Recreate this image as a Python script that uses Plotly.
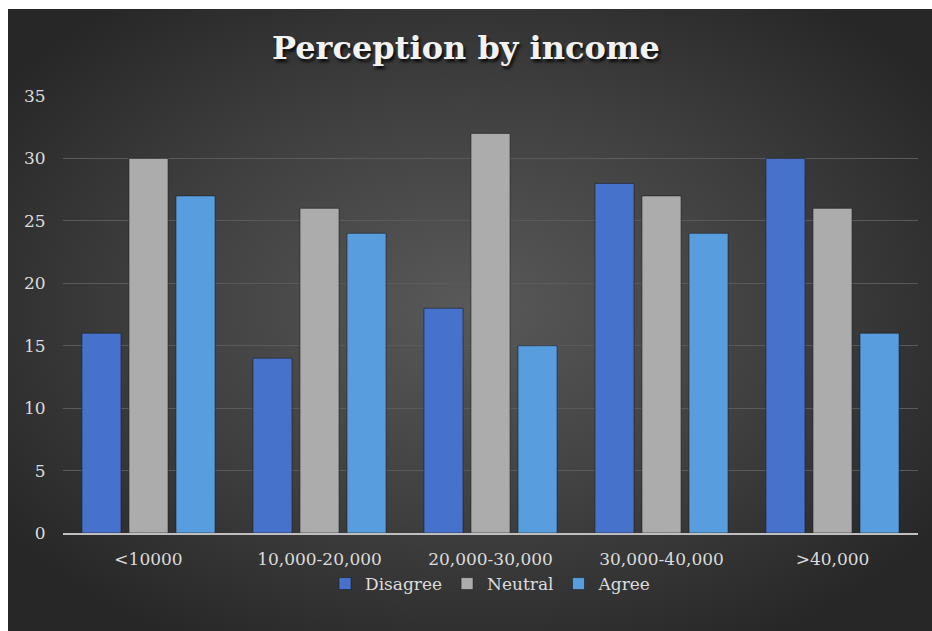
import base64
import plotly.graph_objects as go

# Survey responses grouped by income bracket
categories = ["<10000", "10,000-20,000", "20,000-30,000", "30,000-40,000", ">40,000"]
disagree = [16, 14, 18, 28, 30]
neutral = [30, 26, 32, 27, 26]
agree = [27, 24, 15, 24, 16]
y_ticks = [0, 5, 10, 15, 20, 25, 30, 35]

series = [
    ("Disagree", disagree, "#4672cb"),
    ("Neutral", neutral, "#acacac"),
    ("Agree", agree, "#589ddd"),
]

FONT = "DejaVu Serif"
TEXT = "#dcdcdc"
EDGE = "#272727"

# Dark radial-gradient backdrop, embedded as an SVG image
svg = (
    "<svg xmlns='http://www.w3.org/2000/svg' width='924' height='622' viewBox='0 0 924 622' "
    "preserveAspectRatio='none'>"
    "<defs><radialGradient id='g' cx='50%' cy='48%' r='62%'>"
    "<stop offset='0' stop-color='#595959'/>"
    "<stop offset='0.55' stop-color='#3f3f3f'/>"
    f"<stop offset='1' stop-color='{EDGE}'/>"
    "</radialGradient></defs>"
    "<rect width='924' height='622' fill='url(#g)'/></svg>"
)
bg_src = "data:image/svg+xml;base64," + base64.b64encode(svg.encode()).decode()

fig = go.Figure()
for name, vals, color in series:
    fig.add_trace(go.Bar(
        name=name,
        x=categories,
        y=vals,
        marker=dict(color=color, line=dict(color="rgba(25,25,25,0.55)", width=1)),
    ))

# plot area in pixels: x 63..918, y 96..533
L, R, T, B = 63, 14, 96, 98
W, H = 932, 631
pw, ph = W - L - R, H - T - B


def px_x(v):
    return (v - L) / pw


def px_y(v):
    return (H - B - v) / ph


# thin white frame along the top and left edges of the canvas
frame = [
    dict(type="rect", xref="paper", yref="paper", layer="above",
         x0=px_x(-5), x1=px_x(W + 5), y0=px_y(9), y1=px_y(-5),
         fillcolor="white", line=dict(width=0)),
    dict(type="rect", xref="paper", yref="paper", layer="above",
         x0=px_x(-5), x1=px_x(8), y0=px_y(H + 5), y1=px_y(-5),
         fillcolor="white", line=dict(width=0)),
]

fig.update_layout(
    width=W,
    height=H,
    margin=dict(l=L, r=R, t=T, b=B),
    paper_bgcolor=EDGE,
    plot_bgcolor="rgba(0,0,0,0)",
    barmode="group",
    bargap=0.175,
    bargroupgap=0.17,
    title=dict(
        text="<b>Perception by income</b>",
        x=0.5,
        xanchor="center",
        y=1 - 48 / H,
        yanchor="middle",
        yref="container",
        font=dict(family=FONT, size=32, color="#f2f2f2", shadow="2px 3px 3px rgba(0,0,0,0.8)"),
    ),
    font=dict(family=FONT, size=17, color=TEXT),
    xaxis=dict(
        showgrid=False,
        showline=True,
        linecolor="#bfbfbf",
        linewidth=2,
        ticks="outside",
        ticklen=10,
        tickcolor="rgba(0,0,0,0)",
        tickfont=dict(family=FONT, size=17, color=TEXT),
        zeroline=False,
    ),
    yaxis=dict(
        range=[0, 35],
        tickvals=y_ticks,
        showgrid=True,
        gridcolor="#5a5a5a",
        gridwidth=1,
        zeroline=False,
        showline=False,
        ticks="outside",
        ticklen=13,
        tickcolor="rgba(0,0,0,0)",
        tickfont=dict(family=FONT, size=17, color=TEXT),
    ),
    legend=dict(
        orientation="h",
        x=0.5,
        xanchor="center",
        y=px_y(584),
        yanchor="middle",
        font=dict(family=FONT, size=17, color=TEXT),
        bgcolor="rgba(0,0,0,0)",
        itemwidth=30,
        traceorder="normal",
    ),
    images=[dict(
        source=bg_src,
        xref="paper",
        yref="paper",
        x=px_x(8),
        y=px_y(9),
        sizex=(W - 8) / pw,
        sizey=(H - 9) / ph,
        xanchor="left",
        yanchor="top",
        sizing="stretch",
        layer="below",
    )],
    shapes=frame,
)

fig.write_html("out.html")
